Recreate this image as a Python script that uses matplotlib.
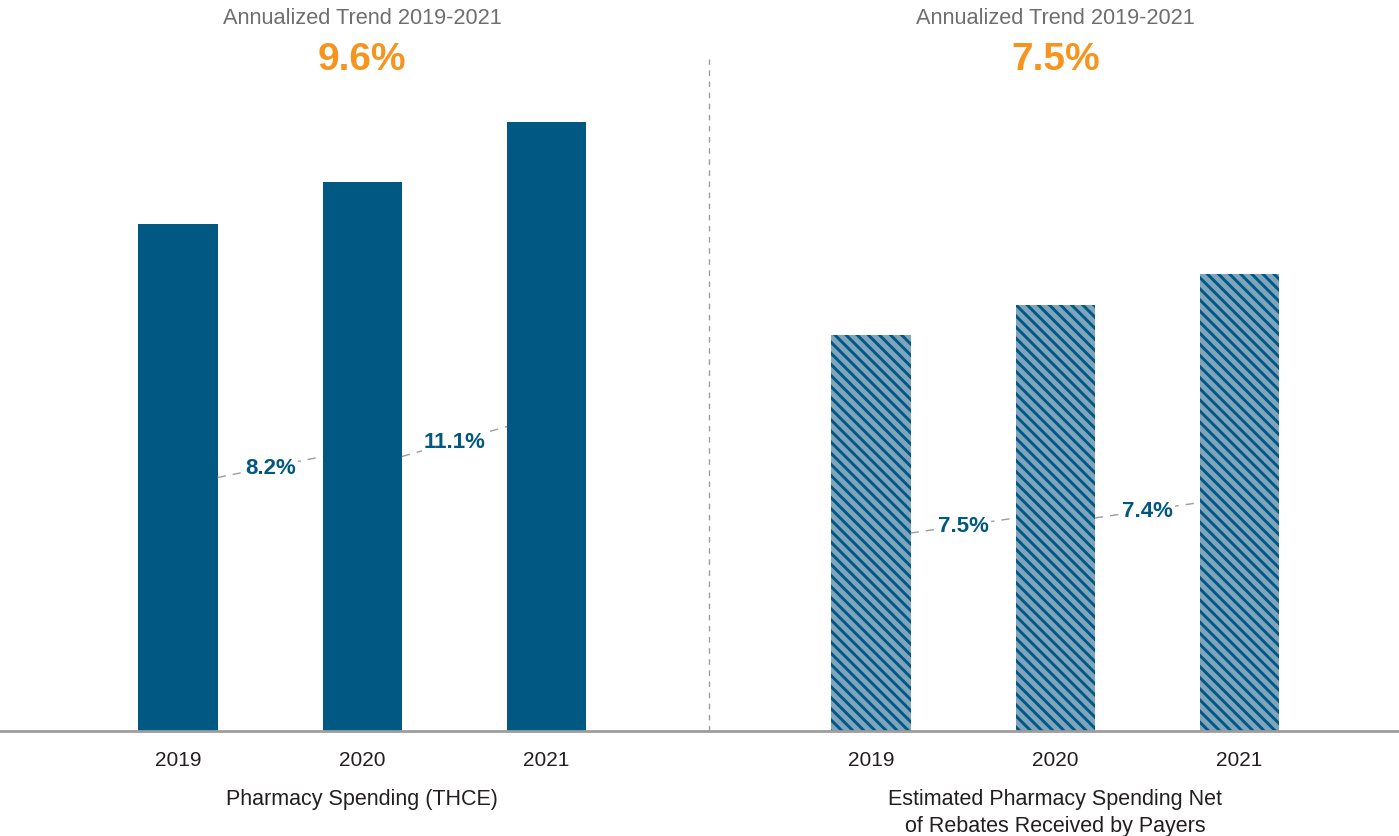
import matplotlib
matplotlib.use("Agg")
import matplotlib.pyplot as plt

# ================= DATA =================

years = ["2019", "2020", "2021"]
gross_spend = [507, 549, 609]      # pharmacy spending (THCE), index units
net_spend = [396, 426, 457]        # net of rebates, same units
gross_growth = ["8.2%", "11.1%"]
net_growth = ["7.5%", "7.4%"]
trend_title = "Annualized Trend 2019-2021"
gross_trend = "9.6%"
net_trend = "7.5%"
gross_label = "Pharmacy Spending (THCE)"
net_label = "Estimated Pharmacy Spending Net\nof Rebates Received by Payers"

BLUE = "#005883"
LIGHT_BLUE = "#7ea5bd"
ORANGE = "#f7941d"
GRAY = "#6d6e71"
DARK = "#231f20"

plt.rcParams["font.family"] = ["Liberation Sans", "DejaVu Sans"]
plt.rcParams["hatch.linewidth"] = 2.1
plt.rcParams["hatch.color"] = BLUE

# ================= LAYOUT =================

fig = plt.figure(figsize=(13.99, 8.37), dpi=100)
ax = fig.add_axes([0, 1 - 732 / 837, 1, 732 / 837])
ax.set_xlim(-0.966, 6.625)
ax.set_ylim(0, 732)
ax.axis("off")

width = 0.43
left_x = [0, 1, 2]
right_x = [3.76, 4.76, 5.76]

ax.bar(left_x, gross_spend, width=width, color=BLUE, linewidth=0)
ax.bar(right_x, net_spend, width=width, facecolor=LIGHT_BLUE,
       edgecolor=BLUE, hatch="\\\\\\", linewidth=0)

# baseline and divider
ax.axhline(0, color="#9d9d9d", lw=2, clip_on=False)
ax.plot([2.88, 2.88], [0, 732 - 60], color="#9d9d9d", lw=1,
        ls=(0, (4, 4)))


def growth_links(xs, vals, labels):
    # dashed connector between bar mid-heights with the growth rate on top
    for i, lab in enumerate(labels):
        x0 = xs[i] + width / 2
        x1 = xs[i + 1] - width / 2
        y0 = vals[i] / 2
        y1 = vals[i + 1] / 2
        ax.plot([x0, x1], [y0, y1], color="#9d9d9d", lw=1,
                ls=(0, (6, 5)))
        ax.text((x0 + x1) / 2, (y0 + y1) / 2, lab, ha="center",
                va="center", fontsize=16, fontweight="bold", color=BLUE,
                bbox=dict(facecolor="white", edgecolor="none", pad=1.5))


growth_links(left_x, gross_spend, gross_growth)
growth_links(right_x, net_spend, net_growth)

for xs, lab in [(left_x, gross_label), (right_x, net_label)]:
    for x, yr in zip(xs, years):
        ax.text(x, -29, yr, ha="center", va="center", fontsize=15,
                color=DARK)
    ax.text(xs[1], -57, lab, ha="center", va="top", fontsize=15.5,
            color=DARK, linespacing=1.4)

for xs, pct in [(left_x, gross_trend), (right_x, net_trend)]:
    ax.text(xs[1], 732 - 19, trend_title, ha="center", va="center",
            fontsize=15.7, color=GRAY)
    ax.text(xs[1], 732 - 60, pct, ha="center", va="center",
            fontsize=28, fontweight="bold", color=ORANGE)

plt.savefig("out.png", dpi=100)
plt.close()
